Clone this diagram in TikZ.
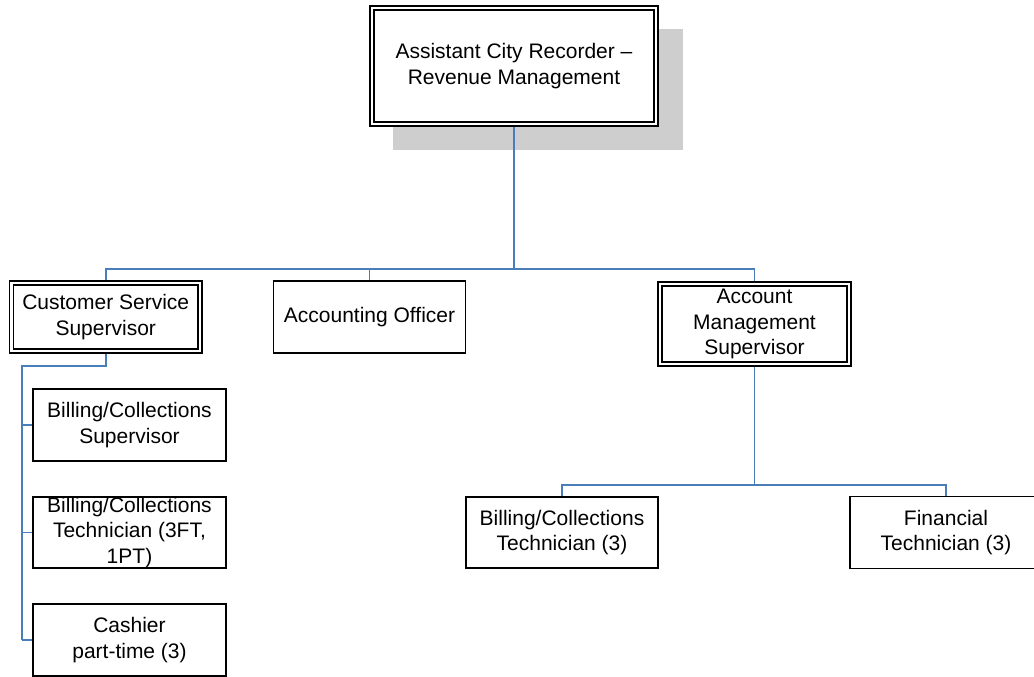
\documentclass[tikz,border=0pt]{standalone}
\usepackage{fontspec}
\setmainfont{Liberation Sans}
\definecolor{linkblue}{RGB}{74,126,187}
\definecolor{shadowgray}{RGB}{206,206,206}
\pgfdeclarelayer{background}
\pgfsetlayers{background,main}
\begin{document}
\begin{tikzpicture}[x=1pt,y=-1pt,
  every node/.style={font=\fontsize{21}{25.5}\selectfont, align=center, inner sep=0pt},
  post/.style={rectangle, draw=black, line width=1.6pt, fill=white},
  headpost/.style={rectangle, draw=black, line width=1.4pt, double=white, double distance=2.6pt, fill=white},
  link/.style={draw=linkblue, line width=1.5pt}]
\useasboundingbox (0,0) rectangle (1034,677);
\clip (0,0) rectangle (1034,677);

% positions
\node[headpost, minimum width=284, minimum height=116] (acr) at (514,66)
  {Assistant City Recorder –\\Revenue Management};

\node[headpost, minimum width=188.5, minimum height=68] (css) at (105.75,317)
  {Customer Service\\Supervisor};
\node[post, minimum width=192, minimum height=72] (ao) at (369.5,317)
  {Accounting Officer};
\node[headpost, minimum width=189, minimum height=80] (ams) at (754.5,324)
  {Account\\Management\\Supervisor};

\node[post, minimum width=193, minimum height=72] (bcs) at (129.5,425)
  {Billing/Collections\\Supervisor};
\node[post, minimum width=193, minimum height=71] (bctl) at (129.5,532.5)
  {Billing/Collections\\Technician (3FT,\\1PT)};
\node[post, minimum width=193, minimum height=72] (cash) at (129.5,640)
  {Cashier\\part-time (3)};

\node[post, minimum width=192, minimum height=71] (bct) at (562,532.5)
  {Billing/Collections\\Technician (3)};
\node[post, minimum width=192, minimum height=72] (fin) at (946,532.5)
  {Financial\\Technician (3)};

\coordinate (bus) at (0,269);
\coordinate (amsbus) at (0,485);
\coordinate (spinetop) at (22,366);
\coordinate (spinebot) at (22,640);

\begin{pgfonlayer}{background}
  % drop shadow behind the head post
  \fill[shadowgray] (393,29) rectangle (683,150);

  % head post to the second level
  \draw[link] (acr.south) -- (acr.south |- bus);
  \draw[link] (css.north) -- (css.north |- bus) -- (ams.north |- bus) -- (ams.north);
  \draw[link] (ao.north) -- (ao.north |- bus);

  % customer service branch
  \draw[link] (css.south) |- (spinetop) -- (spinebot);
  \draw[link] (bcs.west) -- (bcs.west -| spinetop);
  \draw[link] (bctl.west) -- (bctl.west -| spinetop);
  \draw[link] (cash.west) -- (cash.west -| spinetop);

  % account management branch
  \draw[link] (ams.south) -- (ams.south |- amsbus);
  \draw[link] (bct.north) -- (bct.north |- amsbus) -- (fin.north |- amsbus) -- (fin.north);
\end{pgfonlayer}
\end{tikzpicture}
\end{document}
